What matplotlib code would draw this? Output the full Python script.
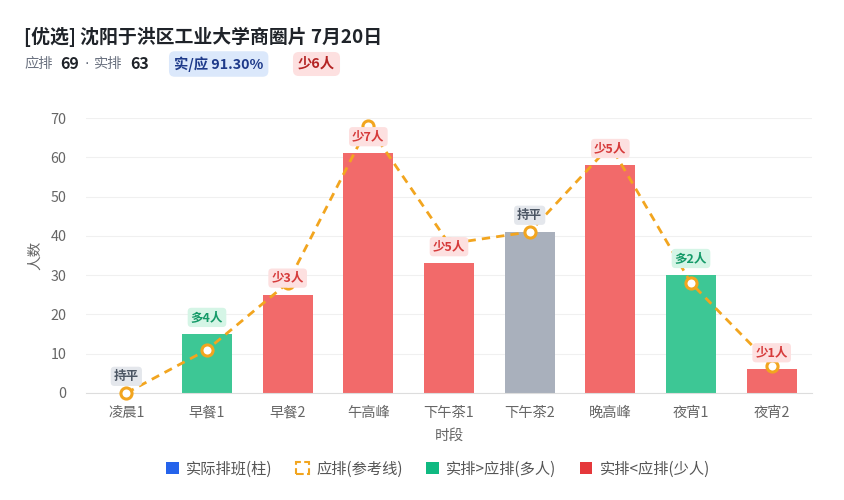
import matplotlib
matplotlib.use('Agg')
import matplotlib.pyplot as plt
from matplotlib.patches import Patch
import numpy as np

plt.rcParams['font.family'] = ['Noto Sans CJK SC', 'DejaVu Sans']

# 数据
slots = ['凌晨1', '早餐1', '早餐2', '午高峰', '下午茶1', '下午茶2', '晚高峰', '夜宵1', '夜宵2']
actual = [0, 15, 25, 61, 33, 41, 58, 30, 6]
required = [0, 11, 28, 68, 38, 41, 63, 28, 7]
title = '[优选] 沈阳于洪区工业大学商圈片 7月20日'
total_required = 69
total_actual = 63

RED = '#F26A6A'
GREEN = '#3DC795'
GRAY = '#A9B0BC'
ORANGE = '#F2A51F'

W, H = 844, 500
fig = plt.figure(figsize=(W / 100, H / 100), dpi=100)
fig.patch.set_facecolor('white')

def px(x, y):
    return x / W, 1 - y / H

# header
fig.text(*px(24, 37), title, fontsize=13.6, fontweight='bold', color='#1f2329', va='center')
fig.text(*px(24, 64), '应排', fontsize=10.3, color='#6b7280', va='center')
fig.text(*px(60, 64), str(total_required), fontsize=11.5, fontweight='bold', color='#1f2329', va='center')
fig.text(*px(85, 64), '·', fontsize=10.3, color='#6b7280', va='center', family='DejaVu Sans')
fig.text(*px(94, 64), '实排', fontsize=10.3, color='#6b7280', va='center')
fig.text(*px(130, 64), str(total_actual), fontsize=11.5, fontweight='bold', color='#1f2329', va='center')
ratio = total_actual / total_required * 100
fig.text(*px(174, 64), f'实/应 {ratio:.2f}%', fontsize=10.3, fontweight='bold', color='#1e3a8a', va='center',
         bbox=dict(boxstyle='round,pad=0.35,rounding_size=0.4', fc='#dbe8fb', ec='none'))
short = total_required - total_actual
fig.text(*px(298, 64), f'少{short}人', fontsize=10.3, fontweight='bold', color='#b42323', va='center',
         bbox=dict(boxstyle='round,pad=0.35,rounding_size=0.4', fc='#fde0e0', ec='none'))

# chart
ax = fig.add_axes([86 / W, 107 / H, (812 - 86) / W, (393 - 118) / H])
x = np.arange(len(slots))
colors = []
for a, r in zip(actual, required):
    if a > r:
        colors.append(GREEN)
    elif a < r:
        colors.append(RED)
    else:
        colors.append(GRAY)

ax.bar(x, actual, width=0.62, color=colors, zorder=2)
ax.plot(x, required, color=ORANGE, lw=2, ls=(0, (3, 2.2)), zorder=3,
        marker='o', markersize=8, markerfacecolor='white', markeredgecolor=ORANGE,
        markeredgewidth=2.2, clip_on=False)

for xi, a, r in zip(x, actual, required):
    d = a - r
    if d > 0:
        txt, fc, tc = f'多{d}人', '#d5f5e6', '#149a68'
    elif d < 0:
        txt, fc, tc = f'少{-d}人', '#fde0e0', '#d63a3a'
    else:
        txt, fc, tc = '持平', '#e4e7ec', '#4b5563'
    ax.annotate(txt, (xi, a), xytext=(0, 12), textcoords='offset points',
                ha='center', va='center', fontsize=9, fontweight='bold', color=tc, zorder=5,
                bbox=dict(boxstyle='round,pad=0.25,rounding_size=0.3', fc=fc, ec='none'))

ax.set_xlim(-0.5, len(slots) - 0.5)
ax.set_ylim(0, 70)
ax.set_yticks(range(0, 71, 10))
ax.set_xticks(x)
ax.set_xticklabels(slots)
ax.tick_params(axis='both', length=0, labelsize=10.3, colors='#666666')
ax.tick_params(axis='x', pad=9)
ax.tick_params(axis='y', pad=14)
ax.grid(axis='y', color='#f0f0f0', lw=0.8, zorder=0)
for s in ['top', 'right', 'left']:
    ax.spines[s].set_visible(False)
ax.spines['bottom'].set_color('#dddddd')
ax.set_xlabel('时段', fontsize=10.5, color='#666666', labelpad=7)
ax.set_ylabel('人数', fontsize=10.5, color='#666666', labelpad=6)

handles = [
    Patch(facecolor='#2563eb', edgecolor='none', label='实际排班(柱)'),
    Patch(facecolor='none', edgecolor=ORANGE, linestyle='--', lw=1.5, label='应排(参考线)'),
    Patch(facecolor='#10b981', edgecolor='none', label='实排>应排(多人)'),
    Patch(facecolor='#e5383b', edgecolor='none', label='实排<应排(少人)'),
]
fig.legend(handles=handles, loc='center', bbox_to_anchor=(438 / W, 1 - 469 / H), ncol=4,
           frameon=False, fontsize=11, handlelength=0.85, handleheight=0.85,
           handletextpad=0.5, columnspacing=1.5, labelcolor='#555555')

fig.savefig('out.png', dpi=100)
